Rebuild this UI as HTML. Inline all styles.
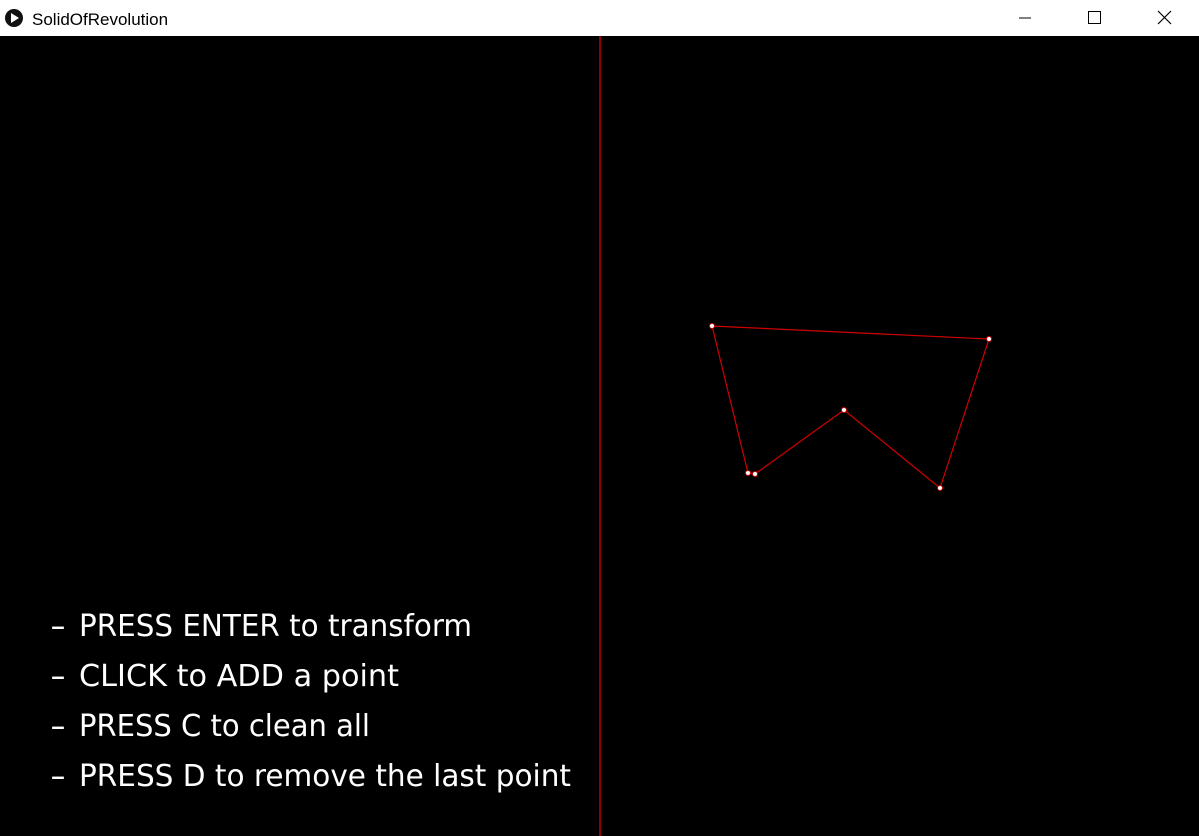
<!DOCTYPE html>
<html><head><meta charset="utf-8"><style>
html,body{margin:0;padding:0;width:1199px;height:836px;overflow:hidden;background:#000}
</style></head><body>
<svg width="1199" height="836" xmlns="http://www.w3.org/2000/svg">
<rect x="0" y="0" width="1199" height="36" fill="#fff"/>
<circle cx="14" cy="18" r="9" fill="#111"/>
<polygon points="11,13 11,23 19,18" fill="#fff"/>
<text x="32" y="25" font-family="Liberation Sans, sans-serif" font-size="17" fill="#000">SolidOfRevolution</text>
<line x1="1019" y1="18" x2="1031" y2="18" stroke="#000" stroke-width="1"/>
<rect x="1088.5" y="11.5" width="12" height="12" fill="none" stroke="#000"/>
<g stroke="#000" stroke-width="1.2"><line x1="1158" y1="11" x2="1171" y2="24"/><line x1="1171" y1="11" x2="1158" y2="24"/></g>
<rect x="0" y="36" width="1199" height="800" fill="#000"/>
<line x1="600" y1="36" x2="600" y2="836" stroke="#c00000" stroke-width="1.5"/>
<g id="shape"></g>
<g font-family="DejaVu Sans, sans-serif" font-size="30" fill="#fff">
<text x="50" y="636" textLength="16" lengthAdjust="spacingAndGlyphs">-</text>
<text x="50" y="686" textLength="16" lengthAdjust="spacingAndGlyphs">-</text>
<text x="50" y="736" textLength="16" lengthAdjust="spacingAndGlyphs">-</text>
<text x="50" y="786" textLength="16" lengthAdjust="spacingAndGlyphs">-</text>
<text x="79" y="636" textLength="393" lengthAdjust="spacingAndGlyphs">PRESS ENTER to transform</text>
<text x="79" y="686" textLength="320" lengthAdjust="spacingAndGlyphs">CLICK to ADD a point</text>
<text x="79" y="736" textLength="291" lengthAdjust="spacingAndGlyphs">PRESS C to clean all</text>
<text x="79" y="786" textLength="492" lengthAdjust="spacingAndGlyphs">PRESS D to remove the last point</text>
</g>
</svg>
<script>
const xs=[712,748,755,844,940,989];
const ys=[326,473,474,410,488,339];
const g=document.getElementById('shape');
const NS='http://www.w3.org/2000/svg';
const pl=document.createElementNS(NS,'polygon');
pl.setAttribute('points',xs.map((x,i)=>x+','+ys[i]).join(' '));
pl.setAttribute('fill','none');pl.setAttribute('stroke','#d00000');pl.setAttribute('stroke-width','1.2');


g.appendChild(pl);
xs.forEach((x,i)=>{
 const c=document.createElementNS(NS,'circle');
 c.setAttribute('cx',x);c.setAttribute('cy',ys[i]);c.setAttribute('r','2.5');
 c.setAttribute('fill','#fff');c.setAttribute('stroke','#d00000');c.setAttribute('stroke-width','1');
 
 
 g.appendChild(c);
});
</script>
</body></html>
